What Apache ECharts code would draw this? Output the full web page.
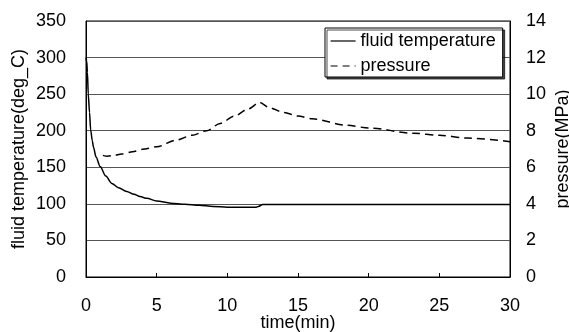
<!DOCTYPE html>
<html>
<head>
<meta charset="utf-8">
<script src="https://cdn.jsdelivr.net/npm/echarts@6/dist/echarts.min.js"></script>
<style>html,body{margin:0;padding:0;background:#fff;}#c{width:569px;height:332px;}</style>
</head>
<body>
<div id="c"></div>
<script>
var xTicks = [0, 5, 10, 15, 20, 25, 30];
var tempTicks = [0, 50, 100, 150, 200, 250, 300, 350];
var pressTicks = [0, 2, 4, 6, 8, 10, 12, 14];

var tempTime  = [0, 0.05, 0.1, 0.16, 0.25, 0.33, 0.45, 0.52, 0.71, 1.0, 1.4, 1.82, 2.3, 2.88, 3.4, 3.82, 4.3, 5, 6, 7, 8, 9, 10, 11, 12, 12.2, 12.5, 13, 15, 20, 25, 30];
var tempValue = [300, 295, 280, 250, 225, 201, 186, 178, 164, 151, 138, 128, 122, 117, 113, 110, 107.5, 104, 101, 99.5, 98, 96.5, 95.5, 95.2, 95.3, 96.5, 99, 99, 99, 99, 99, 99];

var pressTime  = [1.2, 1.5, 2, 2.5, 3.3, 4, 5, 6.4, 7.5, 8.54, 9.5, 10.5, 11.5, 12.27, 13, 14, 15, 16, 18.45, 20, 23.17, 25, 27, 30];
var pressValue = [6.65, 6.6, 6.65, 6.72, 6.85, 6.98, 7.12, 7.49, 7.75, 8.0, 8.4, 8.8, 9.2, 9.55, 9.25, 9.0, 8.8, 8.65, 8.3, 8.15, 7.86, 7.75, 7.6, 7.4];

var FONT = 'Liberation Sans, Arial, sans-serif';
var tempData = tempTime.map(function (t, i) { return [t, tempValue[i]]; });
var pressData = pressTime.map(function (t, i) { return [t, pressValue[i]]; });

var chart = echarts.init(document.getElementById('c'), null, {renderer: 'canvas'});
chart.setOption({
  animation: false,
  backgroundColor: '#fff',
  textStyle: {fontFamily: FONT, color: '#000'},
  grid: {left: 86, right: 59, top: 21, bottom: 55, containLabel: false, outerBoundsMode: 'none',
         show: true, borderColor: '#000', borderWidth: 1, backgroundColor: 'transparent'},
  legend: {
    orient: 'vertical', left: 325, top: 28,
    backgroundColor: '#fff', borderColor: '#000', borderWidth: 1,
    shadowColor: 'rgba(0,0,0,0.7)', shadowOffsetX: 2, shadowOffsetY: 2, shadowBlur: 0,
    padding: [4, 7, 2, 5], itemGap: 7, itemWidth: 25, itemHeight: 10, itemTextGap: 2,
    itemStyle: {opacity: 0},
    textStyle: {fontFamily: FONT, fontSize: 18, color: '#000'},
    data: [
      {name: 'fluid temperature', lineStyle: {type: 'solid', width: 1.2}},
      {name: 'pressure', lineStyle: {type: [7, 5], width: 1.2}}
    ]
  },
  xAxis: {
    type: 'value', min: xTicks[0], max: xTicks[xTicks.length - 1], interval: 5,
    name: 'time(min)', nameLocation: 'middle', nameGap: 37, nameMoveOverlap: false,
    nameTextStyle: {fontFamily: FONT, fontSize: 18, color: '#000'},
    axisLine: {show: true, lineStyle: {color: '#000', width: 1}},
    axisTick: {show: true, inside: true, length: 4, lineStyle: {color: '#000'}},
    axisLabel: {fontFamily: FONT, fontSize: 18, color: '#000', margin: 20},
    splitLine: {show: false}
  },
  yAxis: [{
    type: 'value', position: 'left', min: tempTicks[0], max: tempTicks[tempTicks.length - 1], interval: 50,
    name: 'fluid temperature(deg_C)', nameLocation: 'middle', nameGap: 58, nameRotate: 90, nameMoveOverlap: false,
    nameTextStyle: {fontFamily: FONT, fontSize: 18, color: '#000'},
    axisLine: {show: true, lineStyle: {color: '#000', width: 1}},
    axisTick: {show: false},
    axisLabel: {fontFamily: FONT, fontSize: 18, color: '#000', margin: 20},
    splitLine: {show: true, lineStyle: {color: '#555', width: 1}}
  }, {
    type: 'value', position: 'right', min: pressTicks[0], max: pressTicks[pressTicks.length - 1], interval: 2,
    name: 'pressure(MPa)', nameLocation: 'middle', nameGap: 44, nameRotate: 90, nameMoveOverlap: false,
    nameTextStyle: {fontFamily: FONT, fontSize: 18, color: '#000'},
    axisLine: {show: true, lineStyle: {color: '#000', width: 1}},
    axisTick: {show: false},
    axisLabel: {fontFamily: FONT, fontSize: 18, color: '#000', margin: 16},
    splitLine: {show: false}
  }],
  series: [{
    name: 'fluid temperature', type: 'line', yAxisIndex: 0, data: tempData,
    symbol: 'none', smooth: 0.3, smoothMonotone: 'x',
    lineStyle: {color: '#000', width: 1.5, type: 'solid'}, itemStyle: {color: '#000'}
  }, {
    name: 'pressure', type: 'line', yAxisIndex: 1, data: pressData,
    symbol: 'none', smooth: 0.3, smoothMonotone: 'x',
    lineStyle: {color: '#000', width: 1.5, type: [8, 5]}, itemStyle: {color: '#000'}
  }]
});
</script>
</body>
</html>
